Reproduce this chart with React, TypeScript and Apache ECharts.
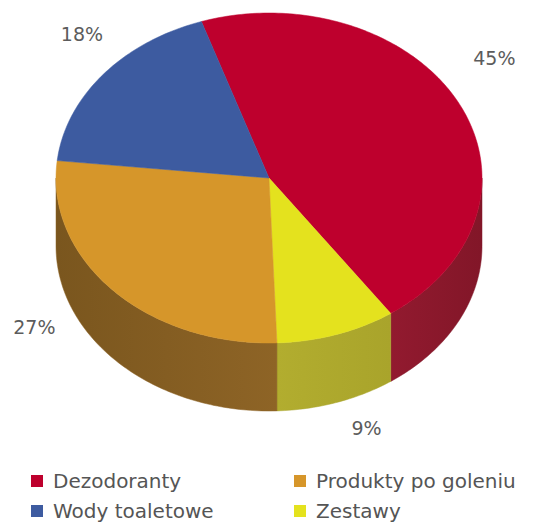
import React, { useEffect, useRef } from "react";
import * as echarts from "echarts";

// Slices in clockwise order, starting near 12 o'clock
const categories = ["Dezodoranty", "Zestawy", "Produkty po goleniu", "Wody toaletowe"];
const shares = [45, 9, 27, 18];

const legendLeft = ["Dezodoranty", "Wody toaletowe"];
const legendRight = ["Produkty po goleniu", "Zestawy"];

const topColors = ["#BE002D", "#E4E21E", "#D6962A", "#3D5BA0"];
const sideColors = [
  ["#921A2F", "#821628"],
  ["#B2AD2F", "#A9A42B"],
  ["#7A561E", "#8E6426"],
  ["#2E4580", "#2E4580"],
];
// label offsets from the slice's outer anchor point (styling only)
const labelNudge = [
  [35, -46],
  [30, 29],
  [-79, -10],
  [-21, -41],
];

const START_DEG = -18.5; // clockwise from 12 o'clock
const GEOM = { cx: 269, cy: 178, rx: 213, ry: 165, depth: 68 };

const total = shares.reduce((a, b) => a + b, 0);

function makeRenderItem(idx: number) {
  return (params: any, api: any) => {
    const v = api.value(0);
    const before = shares.slice(0, idx).reduce((a, b) => a + b, 0);
    const a0 = START_DEG + (before / total) * 360;
    const a1 = a0 + (v / total) * 360;
    const { cx, cy, rx, ry, depth } = GEOM;
    const pt = (deg: number, dy = 0) => {
      const r = (deg * Math.PI) / 180;
      return [cx + rx * Math.sin(r), cy - ry * Math.cos(r) + dy];
    };
    const children: any[] = [];
    // side wall (front half only)
    const s0 = Math.max(a0, 90);
    const s1 = Math.min(a1, 270);
    if (s1 > s0) {
      const pts: number[][] = [];
      for (let t = s0; t < s1; t += 1) pts.push(pt(t));
      pts.push(pt(s1));
      for (let t = s1; t > s0; t -= 1) pts.push(pt(t, depth));
      pts.push(pt(s0, depth));
      children.push({
        type: "polygon",
        shape: { points: pts },
        style: {
          fill: new echarts.graphic.LinearGradient(0, 0, 1, 0, [
            { offset: 0, color: sideColors[idx][0] },
            { offset: 1, color: sideColors[idx][1] },
          ]),
          stroke: sideColors[idx][1],
          lineWidth: 0.5,
        },
      });
    }
    // top face
    const top: number[][] = [[cx, cy]];
    for (let t = a0; t < a1; t += 1) top.push(pt(t));
    top.push(pt(a1));
    children.push({
      type: "polygon",
      shape: { points: top },
      style: { fill: topColors[idx], stroke: topColors[idx], lineWidth: 0.5 },
    });
    // percentage label
    const mid = ((a0 + a1) / 2) * (Math.PI / 180);
    const c = Math.cos(mid);
    const ax = cx + rx * Math.sin(mid);
    const ay = cy - ry * c + (c < 0 ? depth * -c : 0);
    children.push({
      type: "text",
      x: ax + labelNudge[idx][0],
      y: ay + labelNudge[idx][1],
      style: {
        text: v + "%",
        fill: "#5c5c5c",
        fontSize: 19,
        fontFamily: "DejaVu Sans",
        align: "center",
        verticalAlign: "middle",
      },
    });
    return { type: "group", children };
  };
}

export default function App() {
  const ref = useRef<HTMLDivElement>(null);
  useEffect(() => {
    if (!ref.current) return;
    const chart = echarts.init(ref.current, undefined, { renderer: "svg" });
    const legendBase = {
      orient: "vertical",
      top: 471,
      height: 60,
      padding: 0,
      itemWidth: 12,
      itemHeight: 12,
      itemGap: 10,
      icon: "rect",
      selectedMode: false,
      textStyle: {
        fontSize: 20,
        fontFamily: "DejaVu Sans",
        color: "#555555",
        padding: [0, 0, 0, 5],
        lineHeight: 20,
      },
    };
    chart.setOption({
      animation: false,
      backgroundColor: "#ffffff",
      legend: [
        { ...legendBase, data: legendLeft, left: 31 },
        { ...legendBase, data: legendRight, left: 294 },
      ],
      series: categories.map((name, i) => ({
        type: "custom",
        name,
        coordinateSystem: "none",
        itemStyle: { color: topColors[i] },
        renderItem: makeRenderItem(i),
        data: [[shares[i]]],
      })),
    });
    return () => chart.dispose();
  }, []);
  return (
    <div
      ref={ref}
      style={{ position: "absolute", left: 0, top: 0, width: 539, height: 525 }}
    />
  );
}
